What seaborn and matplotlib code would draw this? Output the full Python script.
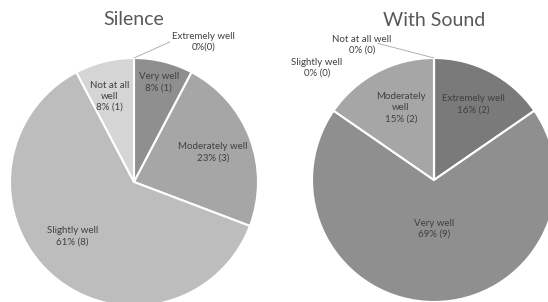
import numpy as np
import matplotlib.pyplot as plt
import seaborn as sns

categories = ["Extremely well", "Very well", "Moderately well", "Slightly well", "Not at all well"]
silence_counts = [0, 1, 3, 8, 1]
silence_pct = ["0%", "8%", "23%", "61%", "8%"]
sound_counts = [2, 9, 2, 0, 0]
sound_pct = ["16%", "69%", "15%", "0%", "0%"]

colors = ["#7a7a7a", "#8f8f8f", "#a6a6a6", "#bdbdbd", "#d5d5d5"]

sns.set_theme(style="white")
plt.rcParams['font.family'] = ['Lato', 'DejaVu Sans']

fig = plt.figure(figsize=(5.48, 3.02), dpi=100)
W, H = 548, 302


def pie_axes(cx, cy, r):
    return fig.add_axes([(cx - r) / W, (H - cy - r) / H, 2 * r / W, 2 * r / H])


def draw_pie(ax, counts, pct, names, dist, zero_pos, title, sep=None):
    wedges, _ = ax.pie(counts, colors=colors, startangle=90, counterclock=False,
                       radius=1, wedgeprops=dict(edgecolor="white", linewidth=1.5))
    ax.set_xlim(-1, 1)
    ax.set_ylim(-1, 1)
    ax.set_aspect("equal")
    ax.axis("off")
    for i, w in enumerate(wedges):
        s = sep[i] if sep and i in sep else " "
        label = f"{names[i]}\n{pct[i]}{s}({counts[i]})"
        if counts[i] == 0:
            (tx, ty), (lx, ly) = zero_pos[i]
            ax.text(tx, ty, label, ha="center", va="center", fontsize=7,
                    color="#404040", clip_on=False, linespacing=1.3)
            if lx is not None:
                ax.plot([lx, 0.0], [ly, 1.0], color="#a6a6a6", lw=0.6, clip_on=False)
            continue
        d, da = dist[i]
        ang = np.deg2rad((w.theta1 + w.theta2) / 2 + da)
        ax.text(d * np.cos(ang), d * np.sin(ang), label, ha="center", va="center",
                fontsize=7, color="#404040", linespacing=1.3)
    ax.text(0, 1.31, title, ha="center", va="center", fontsize=14,
            color="#595959", clip_on=False)


ax1 = pie_axes(134, 182, 124)
names1 = ["Extremely well", "Very well", "Moderately well", "Slightly well", "Not at all\nwell"]
draw_pie(ax1, silence_counts, silence_pct, names1,
         dist={1: (0.83, 0), 2: (0.68, 0), 3: (0.66, -7), 4: (0.72, 2)},
         zero_pos={0: ((0.56, 1.13), (0.29, 1.13))},
         title="Silence", sep={0: ""})

ax2 = pie_axes(434, 180, 122)
names2 = ["Extremely well", "Very well", "Moderately\nwell", "Slightly well", "Not at all well"]
draw_pie(ax2, sound_counts, sound_pct, names2,
         dist={0: (0.70, 0), 1: (0.40, 0), 2: (0.65, -3)},
         zero_pos={3: ((-0.96, 0.92), (None, None)), 4: ((-0.59, 1.11), (-0.46, 1.12))},
         title="With Sound")

fig.savefig("out.png", dpi=100)
